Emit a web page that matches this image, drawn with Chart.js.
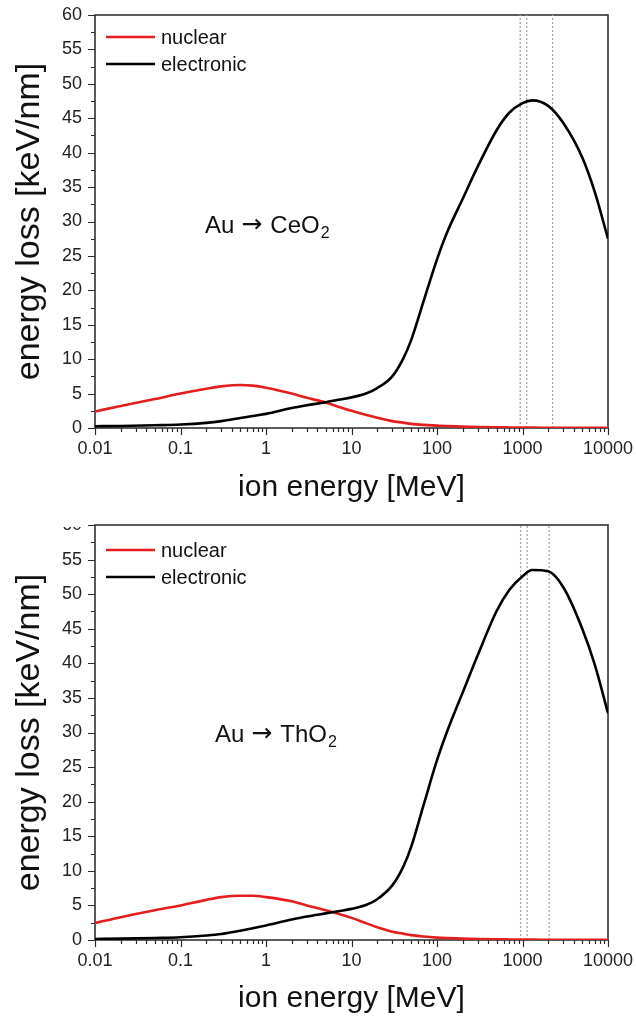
<!DOCTYPE html>
<html><head><meta charset="utf-8">
<script src="https://cdn.jsdelivr.net/npm/chart.js@4.4.1/dist/chart.umd.min.js"></script>
<style>
html,body{margin:0;padding:0;background:#fff}
body{width:636px;height:1021px;overflow:hidden;position:relative}
#w1{position:absolute;left:0;top:0;width:636px;height:510px}
#w2{position:absolute;left:0;top:510px;width:636px;height:511px}
#mask{position:absolute;left:50px;top:505px;width:34px;height:22px;background:#fff}
</style></head><body>
<div id="w1"><canvas id="c1" width="636" height="510"></canvas></div>
<div id="w2"><canvas id="c2" width="636" height="511"></canvas></div>
<div id="mask"></div>
<script>
// ---- data ----
const energies = [0.01,0.02,0.05,0.1,0.2,0.3,0.5,0.7,1,2,3,5,7,10,15,20,30,40,50,70,100,130,200,300,500,700,1000,1300,2000,3000,5000,7000,10000];
const ceo2Nuclear = [2.4,3.2,4.2,5.0,5.7,6.05,6.25,6.15,5.85,5.0,4.4,3.7,3.1,2.5,1.9,1.5,1.0,0.78,0.6,0.45,0.35,0.28,0.2,0.15,0.1,0.08,0.06,0.05,0.04,0.03,0.02,0.02,0.01];
const ceo2Electronic = [0.25,0.3,0.4,0.5,0.75,1.0,1.45,1.75,2.05,2.9,3.3,3.75,4.1,4.45,5.05,5.8,7.5,10.0,12.8,18.5,24.5,28.3,33.3,38.0,43.3,45.8,47.2,47.6,46.8,44.3,39.3,34.3,27.5];
const tho2Nuclear = [2.45,3.3,4.3,5.0,5.8,6.2,6.4,6.4,6.2,5.6,5.0,4.3,3.8,3.2,2.4,1.85,1.2,0.92,0.7,0.5,0.35,0.28,0.2,0.15,0.1,0.08,0.06,0.05,0.04,0.03,0.02,0.02,0.01];
const tho2Electronic = [0.15,0.2,0.3,0.4,0.65,0.87,1.35,1.7,2.1,2.95,3.4,3.85,4.15,4.5,5.1,5.9,7.9,10.5,13.5,19.6,26.0,30.0,35.8,41.2,47.6,50.6,52.6,53.5,53.3,51.0,45.0,39.8,32.8];
const ceo2Markers = [940,1120,2250];
const tho2Markers = [950,1135,2050];
const seriesNames = ['nuclear','electronic'];
const xTickValues = [0.01,0.1,1,10,100,1000,10000];
const xTickLabels = ['0.01','0.1','1','10','100','1000','10000'];
const yTickValues = [0,5,10,15,20,25,30,35,40,45,50,55,60];
const ceo2Label = ['Au', '\u2192', 'CeO', '2'];
const tho2Label = ['Au', '\u2192', 'ThO', '2'];

const FONT = '"Liberation Sans", Arial, sans-serif';

const decor = {
  id: 'decor',
  beforeDatasetsDraw(chart, args, o) {
    const {ctx, chartArea: a, scales: {x, y}} = chart;
    ctx.save();
    ctx.strokeStyle = '#2a2a2a';
    ctx.lineWidth = 1.2;
    ctx.beginPath();
    xTickValues.forEach((b, i) => {
      const p = Math.round(x.getPixelForValue(b)) + 0.5;
      ctx.moveTo(p, a.bottom); ctx.lineTo(p, a.bottom + 7);
      if (i < xTickValues.length - 1) {
        for (let m = 2; m <= 9; m++) {
          const q = Math.round(x.getPixelForValue(b * m)) + 0.5;
          ctx.moveTo(q, a.bottom); ctx.lineTo(q, a.bottom + 4);
        }
      }
    });
    yTickValues.forEach((v, i) => {
      const p = Math.round(y.getPixelForValue(v)) + 0.5;
      ctx.moveTo(a.left, p); ctx.lineTo(a.left - 7, p);
      if (i < yTickValues.length - 1) {
        const q = Math.round(y.getPixelForValue(v + 2.5)) + 0.5;
        ctx.moveTo(a.left, q); ctx.lineTo(a.left - 4, q);
      }
    });
    ctx.stroke();
    ctx.lineWidth = 1.6;
    ctx.strokeStyle = '#333';
    ctx.strokeRect(a.left, a.top, a.right - a.left, a.bottom - a.top);
    ctx.restore();
  },
  afterDatasetsDraw(chart, args, o) {
    const {ctx, chartArea: a} = chart;
    ctx.save();
    // legend
    seriesNames.forEach((name, i) => {
      const ds = chart.data.datasets[i];
      const yy = a.top + o.legendTop + i * 27;
      ctx.strokeStyle = ds.borderColor;
      ctx.lineWidth = 2.6;
      ctx.beginPath();
      ctx.moveTo(a.left + 11, yy); ctx.lineTo(a.left + 60, yy);
      ctx.stroke();
      ctx.fillStyle = '#111';
      ctx.font = '20px ' + FONT;
      ctx.textBaseline = 'middle';
      ctx.fillText(name, a.left + 66, yy + 1);
    });
    // annotation
    ctx.textBaseline = 'alphabetic';
    ctx.fillStyle = '#111';
    let xx = o.labelX;
    ctx.font = '24px ' + FONT;
    ctx.fillText(o.label[0], xx, o.labelY);
    xx += ctx.measureText(o.label[0]).width + 7;
    ctx.font = '25px "DejaVu Sans", sans-serif';
    ctx.fillText(o.label[1], xx, o.labelY - 1);
    xx += ctx.measureText(o.label[1]).width + 8;
    ctx.font = '24px ' + FONT;
    ctx.fillText(o.label[2], xx, o.labelY);
    xx += ctx.measureText(o.label[2]).width + 1;
    ctx.font = '16px ' + FONT;
    ctx.fillText(o.label[3], xx, o.labelY + 5);
    ctx.restore();
  }
};

function build(id, nuc, ele, markers, label, plotH, canvasH, legendTop, labelX, labelY) {
  const datasets = [
    {data: energies.map((e, i) => ({x: e, y: nuc[i]})), borderColor: '#e41e1e', borderWidth: 2.6, pointRadius: 0, cubicInterpolationMode: 'monotone', order: 1},
    {data: energies.map((e, i) => ({x: e, y: ele[i]})), borderColor: '#000000', borderWidth: 2.6, pointRadius: 0, cubicInterpolationMode: 'monotone', order: 0}
  ];
  markers.forEach(m => datasets.push({
    data: [{x: m, y: 0}, {x: m, y: 60}], borderColor: '#a8a8a8', borderWidth: 1.3,
    borderDash: [2, 2], pointRadius: 0, order: 5
  }));
  new Chart(document.getElementById(id), {
    type: 'line',
    data: {datasets},
    plugins: [decor],
    options: {
      responsive: false, animation: false, devicePixelRatio: 1,
      layout: {padding: {top: 15, right: 28, left: 0, bottom: 0}},
      plugins: {legend: {display: false}, tooltip: {enabled: false},
        decor: {legendTop: legendTop, label: label, labelX: labelX, labelY: labelY}},
      scales: {
        x: {
          type: 'logarithmic', min: 0.01, max: 10000,
          afterBuildTicks: s => { s.ticks = xTickValues.map(v => ({value: v})); },
          afterFit: s => { s.height = canvasH - 15 - plotH; s.paddingLeft = 0; s.paddingRight = 0; },
          ticks: {callback: (v, i) => xTickLabels[i], color: '#222', font: {family: FONT, size: 18}, padding: 10, maxRotation: 0, autoSkip: false},
          grid: {display: false, drawTicks: false},
          border: {display: false},
          title: {display: true, text: 'ion energy [MeV]', color: '#111', font: {family: FONT, size: 30}, padding: {top: 0, bottom: 4}}
        },
        y: {
          min: 0, max: 60,
          afterBuildTicks: s => { s.ticks = yTickValues.map(v => ({value: v})); },
          afterFit: s => { s.width = 95; s.paddingTop = 0; s.paddingBottom = 0; },
          ticks: {color: '#222', font: {family: FONT, size: 18}, padding: 13},
          grid: {display: false, drawTicks: false},
          border: {display: false},
          title: {display: true, text: 'energy loss [keV/nm]', color: '#111', font: {family: FONT, size: 34}, padding: {top: 9, bottom: 0}}
        }
      }
    }
  });
}

build('c1', ceo2Nuclear, ceo2Electronic, ceo2Markers, ceo2Label, 413, 510, 22, 205, 233);
build('c2', tho2Nuclear, tho2Electronic, tho2Markers, tho2Label, 415, 511, 25, 215, 232);
</script>
</body></html>
